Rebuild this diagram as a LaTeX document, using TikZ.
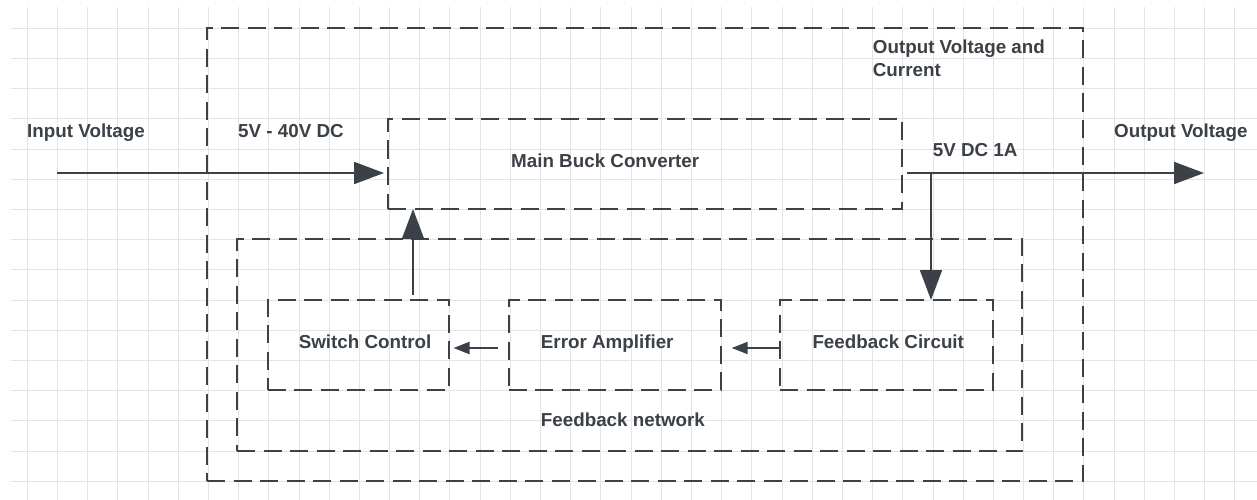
\documentclass[tikz,border=0pt]{standalone}
\usepackage{fontspec}
\setmainfont{Liberation Sans}
\usetikzlibrary{arrows.meta,calc}
\definecolor{ink}{RGB}{59,65,71}
\definecolor{gridc}{RGB}{228,228,228}
\begin{document}
\begin{tikzpicture}[x=1pt,y=-1pt,
  box/.style={draw=ink, line width=2pt, dash pattern=on 18pt off 8.5pt, anchor=north west, inner sep=0pt, outer sep=0pt},
  lbl/.style={text=ink, font=\fontsize{18.8}{23}\selectfont\bfseries, inner sep=0pt, anchor=base west},
  conn/.style={draw=ink, line width=2pt},
  bigarr/.style={conn, -{Triangle[length=30pt,width=22pt]}},
  smallarr/.style={conn, -{Triangle[length=16pt,width=12pt]}},
]
\useasboundingbox (0,0) rectangle (1257,500);
\fill[white] (0,0) rectangle (1257,500);
\foreach \i in {0,...,40} { \draw[gridc, line width=1pt] ({27.3+30.19*\i},7) -- ({27.3+30.19*\i},500); }
\foreach \j in {0,...,15} { \draw[gridc, line width=1pt] (11,{28.3+30.2*\j}) -- (1257,{28.3+30.2*\j}); }

% boxes
\node[box, minimum width=876pt, minimum height=453pt] (outer) at (207,28) {};
\node[box, minimum width=514pt, minimum height=90pt] (mbc) at (388,119) {};
\node[box, minimum width=785pt, minimum height=212pt] (fbnet) at (237,239) {};
\node[box, minimum width=181pt, minimum height=90pt] (sc) at (267.5,300) {};
\node[box, minimum width=212.4pt, minimum height=90pt] (ea) at (508.6,300) {};
\node[box, minimum width=212.7pt, minimum height=90pt] (fbc) at (780,300) {};

% labels
\node[lbl] (tin) at (27,137.5) {Input Voltage};
\node[lbl] (tvin) at (238,137.5) {5V - 40V DC};
\node[lbl] (tmbc) at (511,167.5) {Main Buck Converter};
\node[lbl, align=left] (tovc) at (872.7,76.5) {Output Voltage and\\Current};
\node[lbl] (tvout) at (932.7,156.5) {5V DC 1A};
\node[lbl] (tout) at (1114,137) {Output Voltage};
\node[lbl] (tsc) at (298.6,348.5) {Switch Control};
\node[lbl] (tea) at (540.7,348.5) {Error Amplifier};
\node[lbl] (tfbc) at (812.3,348.5) {Feedback Circuit};
\node[lbl] (tfbn) at (540.7,426.5) {Feedback network};

% connectors
\coordinate (inS) at (57,173);
\coordinate (outE) at (1204,173);
\coordinate (tap) at (931,173);
\coordinate (swx) at (413,0);
\coordinate (hy) at (0,348);
\draw[bigarr, shorten >=4pt] (inS) -- (inS -| mbc.west);
\draw[bigarr, shorten <=5pt] (mbc.east |- outE) -- (outE);
\draw[bigarr] (tap) -- (tap |- fbc.north);
\draw[bigarr, shorten <=5pt] (swx |- sc.north) -- (swx |- mbc.south);
\draw[smallarr, shorten <=11pt, shorten >=5pt] (ea.west |- hy) -- (sc.east |- hy);
\draw[smallarr, shorten >=10.7pt] (fbc.west |- hy) -- (ea.east |- hy);
\end{tikzpicture}
\end{document}
